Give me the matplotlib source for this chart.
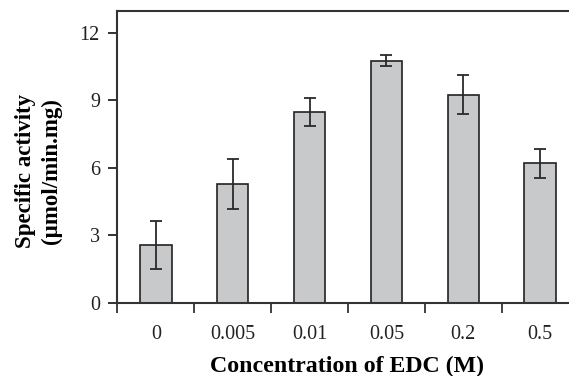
import matplotlib
matplotlib.use("Agg")
import matplotlib.pyplot as plt
import numpy as np
from matplotlib.ticker import FixedLocator

categories = ["0", "0.005", "0.01", "0.05", "0.2", "0.5"]
values = [2.57, 5.28, 8.47, 10.75, 9.24, 6.19]
errors = [1.07, 1.11, 0.62, 0.25, 0.87, 0.63]
yticks = [0, 3, 6, 9, 12]

plt.rcParams['font.family'] = ['Liberation Serif', 'DejaVu Serif']

fig = plt.figure(figsize=(5.69, 3.76), dpi=100)
left, bottom, top = 117.3, 303.0, 10.7
axw = 569 - left
ax = fig.add_axes([left/569, 1 - bottom/376, 1 - left/569, (bottom - top)/376])

x = np.arange(len(categories))
ax.bar(x, values, width=0.41, color="#c8c9cb", edgecolor="#222222", linewidth=1.2, zorder=2)
ax.errorbar(x, values, yerr=errors, fmt="none", ecolor="#2a2a2a", elinewidth=1.3,
            capsize=4, capthick=1.3, zorder=3)

ax.set_ylim(0, 12.97)
ax.set_xlim(-0.5, axw / 76.9 - 0.5)
ax.set_yticks(yticks)
ax.set_yticklabels([str(t) for t in yticks], fontsize=14.5)
ax.set_xticks(x)
ax.set_xticklabels(categories, fontsize=14.5)
ax.xaxis.set_minor_locator(FixedLocator(np.arange(-0.5, len(categories), 1.0)))
ax.tick_params(axis="x", which="major", length=0, pad=16, colors="#222222")
ax.tick_params(axis="x", which="minor", length=7.5, width=1.3, direction="out", color="#333333")
ax.tick_params(axis="y", length=6.5, width=1.3, direction="out", pad=6, colors="#222222")

for s in ["left", "bottom", "top"]:
    ax.spines[s].set_linewidth(1.5)
    ax.spines[s].set_color("#333333")
ax.spines["right"].set_visible(False)

ax.set_xlabel("Concentration of EDC (M)", fontsize=17.2, fontweight="bold", labelpad=7)
ax.xaxis.set_label_coords((347.5 - left) / axw, (bottom - 356) / (bottom - top), transform=ax.transAxes)
ax.xaxis.label.set_va("top")
ax.set_ylabel("Specific activity\n(\u00b5mol/min.mg)", fontsize=16.5, fontweight="bold",
              linespacing=1.3)
ax.yaxis.set_label_coords((62 - left) / axw, (bottom - 171) / (bottom - top))

fig.savefig("out.png", dpi=100)
